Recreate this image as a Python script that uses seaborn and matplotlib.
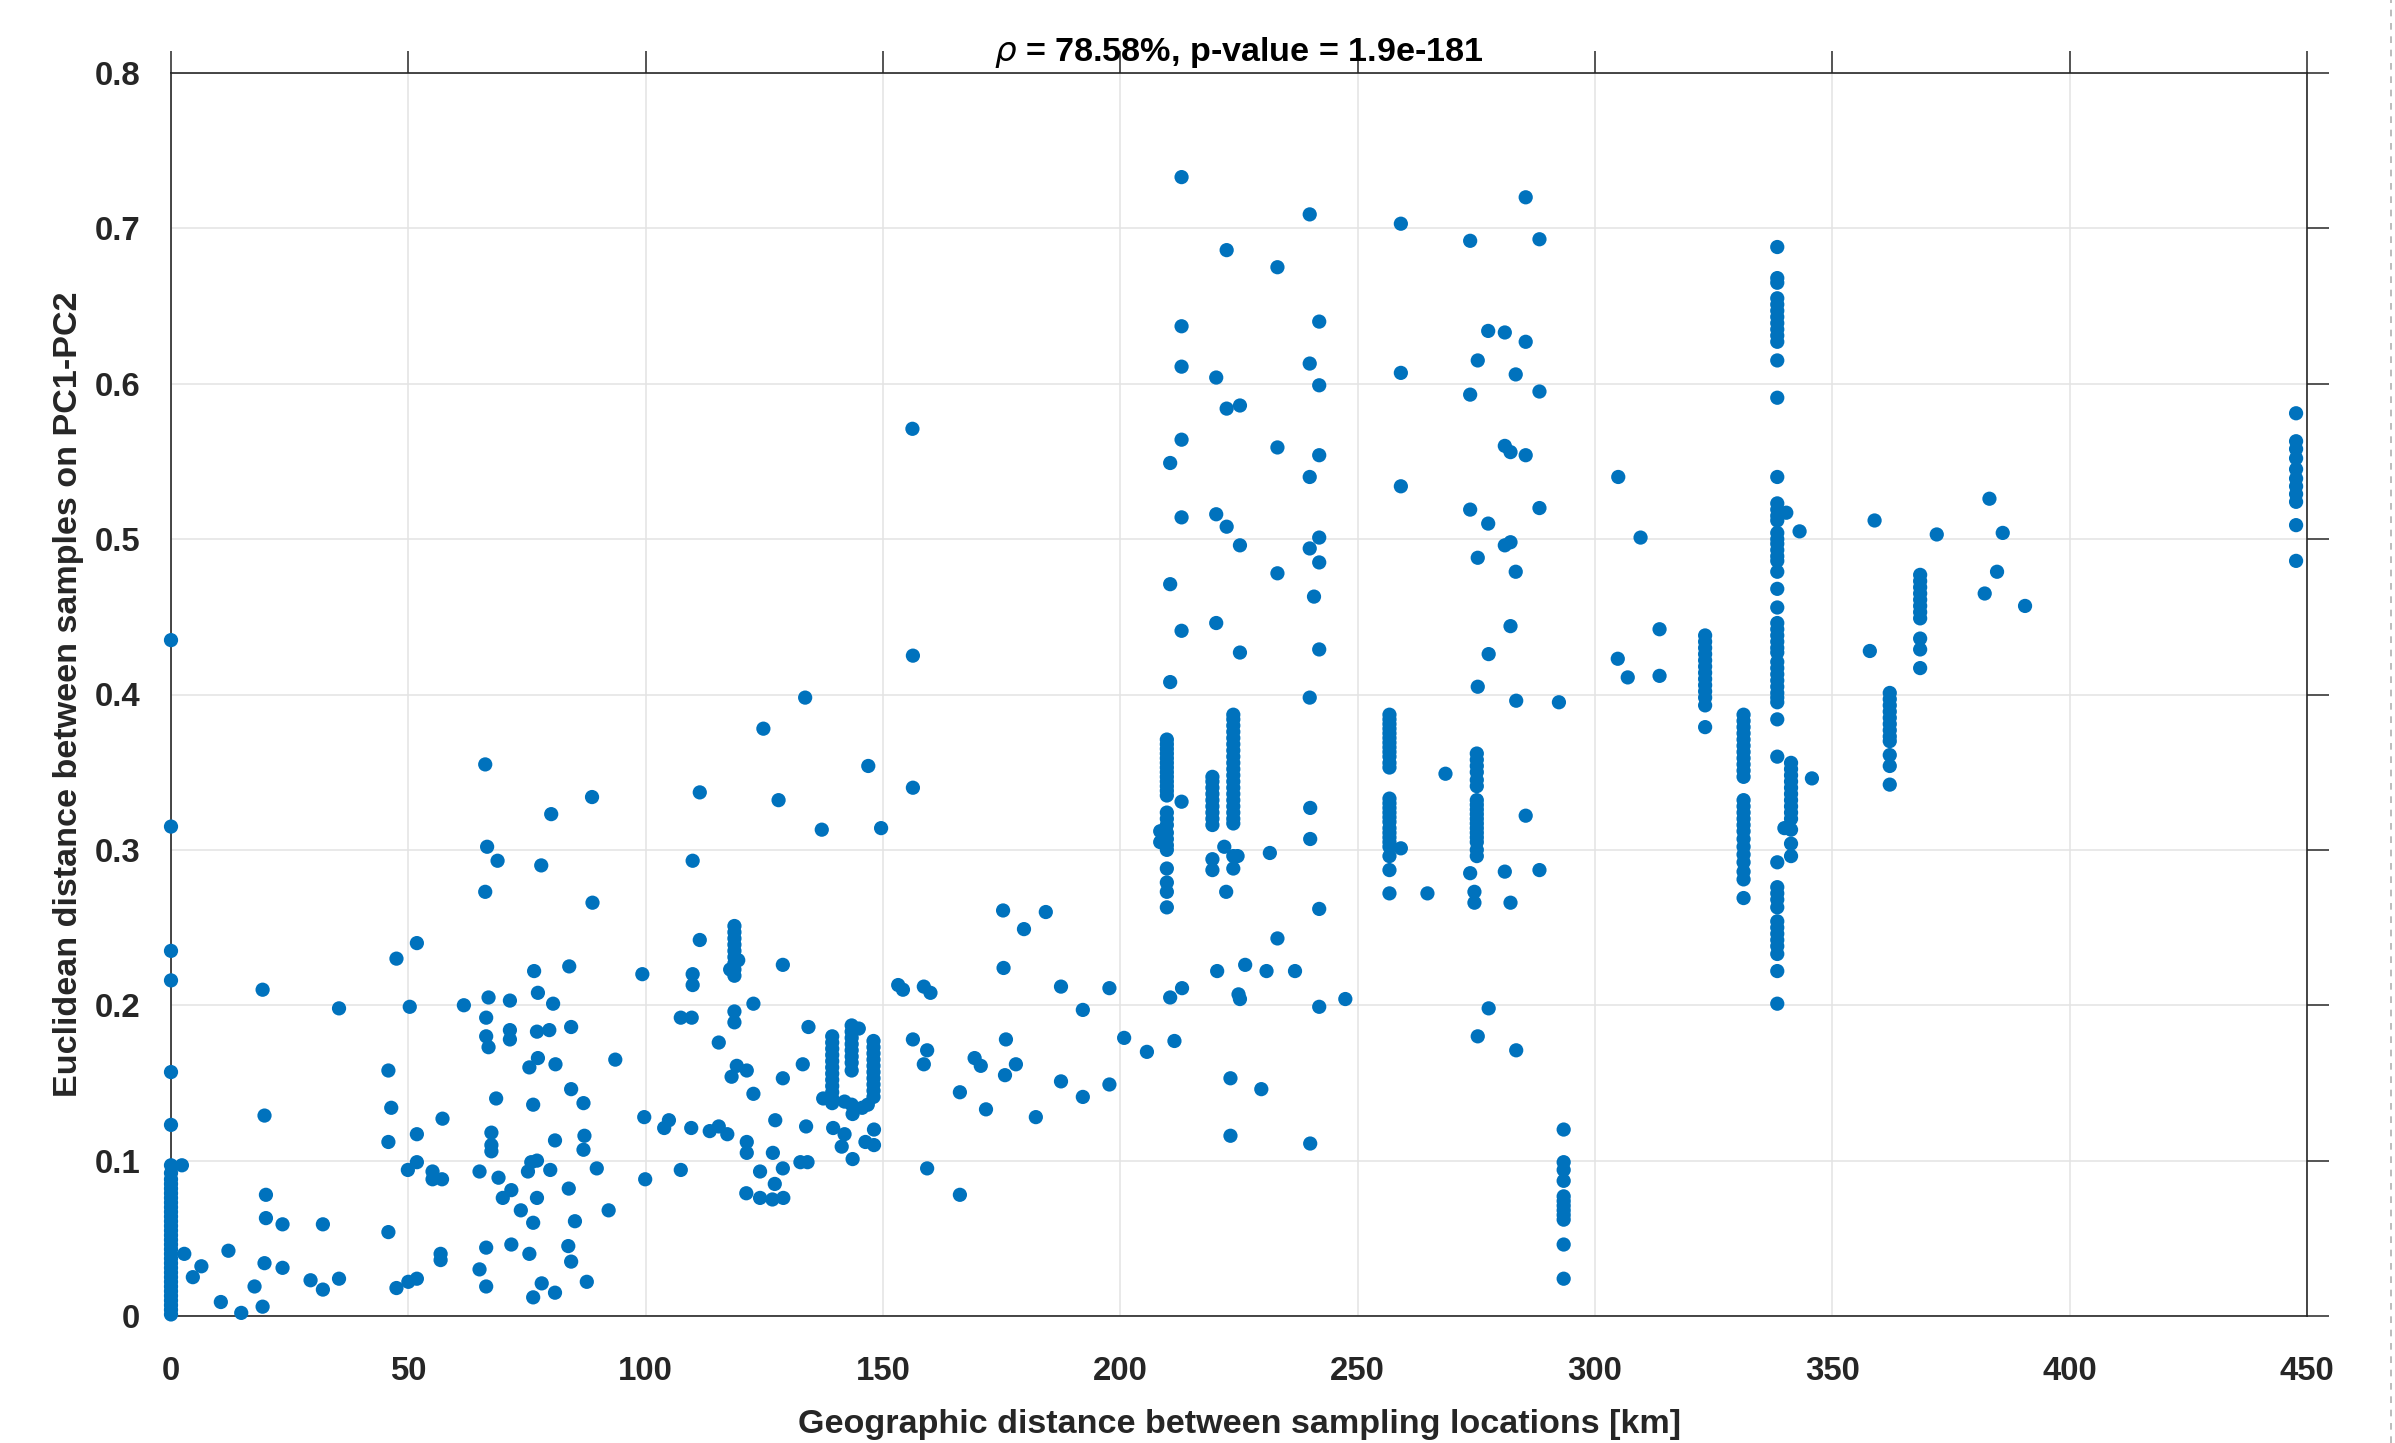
import numpy as np
import pandas as pd
import matplotlib
matplotlib.use("Agg")
import matplotlib.pyplot as plt
import seaborn as sns
from matplotlib import font_manager
from matplotlib.ticker import FuncFormatter
from matplotlib.lines import Line2D

# ---------------- data (km, Euclidean distance on PC1-PC2) ----------------
x_ticks = [0, 50, 100, 150, 200, 250, 300, 350, 400, 450]
y_ticks = [0, 0.1, 0.2, 0.3, 0.4, 0.5, 0.6, 0.7, 0.8]

# vertical clusters: (geographic distance, list of PC distances)
cols_near = [
    (0.0, [0.435, 0.315, 0.235, 0.216, 0.157, 0.123, 0.097, 0.092, 0.088, 0.085,
           0.082, 0.079, 0.076, 0.073, 0.070, 0.067, 0.064, 0.061, 0.058, 0.055,
           0.052, 0.049, 0.046, 0.043, 0.040, 0.037, 0.034, 0.031, 0.028, 0.025,
           0.022, 0.019, 0.016, 0.013, 0.010, 0.007, 0.004, 0.001]),
]
cols_mid = [
    (118.7, [0.251, 0.247, 0.243, 0.239, 0.235, 0.231, 0.227, 0.223, 0.219, 0.196, 0.189]),
    (139.3, [0.180, 0.176, 0.172, 0.168, 0.164, 0.160, 0.156, 0.152, 0.148, 0.144, 0.140, 0.137]),
    (143.4, [0.187, 0.183, 0.179, 0.175, 0.171, 0.167, 0.163, 0.158, 0.136]),
    (148.0, [0.177, 0.173, 0.169, 0.165, 0.161, 0.157, 0.153, 0.149, 0.145, 0.141]),
]
cols_far1 = [
    (209.8, [0.371, 0.368, 0.365, 0.362, 0.359, 0.356, 0.353, 0.350, 0.347, 0.344,
             0.341, 0.338, 0.335, 0.324, 0.320, 0.316, 0.311, 0.307, 0.303, 0.300,
             0.288, 0.279, 0.273, 0.263]),
    (219.4, [0.347, 0.344, 0.340, 0.336, 0.332, 0.328, 0.324, 0.320, 0.316, 0.294, 0.287]),
    (223.8, [0.387, 0.384, 0.380, 0.376, 0.372, 0.368, 0.364, 0.360, 0.356, 0.352,
             0.348, 0.344, 0.340, 0.336, 0.332, 0.328, 0.324, 0.320, 0.317, 0.296, 0.288]),
    (256.7, [0.387, 0.384, 0.381, 0.378, 0.375, 0.372, 0.369, 0.366, 0.363, 0.360,
             0.356, 0.353, 0.333, 0.330, 0.327, 0.324, 0.321, 0.318, 0.314, 0.311,
             0.308, 0.305, 0.302, 0.296, 0.287, 0.272]),
    (275.1, [0.362, 0.358, 0.354, 0.350, 0.345, 0.341, 0.332, 0.329, 0.326, 0.323,
             0.320, 0.317, 0.314, 0.311, 0.308, 0.305, 0.300, 0.296]),
    (293.4, [0.120, 0.099, 0.094, 0.087, 0.077, 0.074, 0.071, 0.068, 0.065, 0.062, 0.046, 0.024]),
]
cols_far2 = [
    (323.2, [0.438, 0.434, 0.430, 0.426, 0.422, 0.418, 0.414, 0.410, 0.406, 0.402, 0.398, 0.393, 0.379]),
    (331.3, [0.387, 0.383, 0.379, 0.375, 0.371, 0.367, 0.363, 0.359, 0.355, 0.351,
             0.347, 0.332, 0.328, 0.324, 0.320, 0.316, 0.312, 0.307, 0.302, 0.297,
             0.292, 0.286, 0.281, 0.269]),
    (338.4, [0.688, 0.668, 0.665, 0.655, 0.651, 0.647, 0.643, 0.639, 0.635, 0.631,
             0.627, 0.615, 0.591, 0.540, 0.523, 0.519, 0.515, 0.512, 0.504, 0.500,
             0.497, 0.493, 0.489, 0.486, 0.479, 0.468, 0.456, 0.446, 0.442, 0.438,
             0.434, 0.430, 0.427, 0.421, 0.417, 0.413, 0.409, 0.405, 0.401, 0.398,
             0.395, 0.384, 0.360, 0.292, 0.276, 0.272, 0.268, 0.263, 0.254, 0.250,
             0.246, 0.242, 0.238, 0.233, 0.222, 0.201]),
    (341.3, [0.356, 0.352, 0.348, 0.344, 0.340, 0.336, 0.332, 0.328, 0.324, 0.320, 0.313, 0.304, 0.296]),
    (362.1, [0.401, 0.397, 0.393, 0.389, 0.385, 0.381, 0.377, 0.373, 0.370, 0.361, 0.354, 0.342]),
    (368.5, [0.477, 0.473, 0.469, 0.465, 0.461, 0.457, 0.453, 0.449, 0.436, 0.429, 0.417]),
    (447.7, [0.581, 0.563, 0.558, 0.552, 0.545, 0.539, 0.534, 0.529, 0.524, 0.509, 0.486]),
]

# isolated points (geographic distance, PC distance)
pts_0_50 = [(2.3, 0.097), (19.3, 0.210), (35.4, 0.198), (19.7, 0.129), (20.0, 0.078),
            (20.0, 0.063), (23.5, 0.059), (32.0, 0.059), (2.8, 0.040), (12.1, 0.042),
            (6.4, 0.032), (4.6, 0.025), (19.7, 0.034), (23.5, 0.031), (17.6, 0.019),
            (29.4, 0.023), (32.0, 0.017), (35.4, 0.024), (10.5, 0.009), (14.8, 0.002),
            (19.3, 0.006), (45.8, 0.158), (46.4, 0.134), (45.8, 0.112), (45.8, 0.054),
            (47.5, 0.018), (49.9, 0.094), (51.8, 0.117), (51.8, 0.099), (50.3, 0.199),
            (47.5, 0.230), (51.8, 0.240), (50.0, 0.022), (51.8, 0.024)]
pts_50_100 = [(66.2, 0.355), (88.7, 0.334), (80.1, 0.323), (66.6, 0.302), (68.8, 0.293),
              (78.0, 0.290), (66.2, 0.273), (88.8, 0.266), (76.5, 0.222), (83.9, 0.225),
              (99.3, 0.220), (61.7, 0.200), (66.9, 0.205), (71.4, 0.203), (77.3, 0.208),
              (80.5, 0.201), (66.4, 0.192), (66.4, 0.180), (66.9, 0.173), (71.4, 0.184),
              (71.4, 0.178), (77.1, 0.183), (79.7, 0.184), (84.3, 0.186), (77.3, 0.166),
              (75.5, 0.160), (81.0, 0.162), (93.6, 0.165), (68.5, 0.140), (84.3, 0.146),
              (86.9, 0.137), (76.3, 0.136), (57.2, 0.127), (67.5, 0.118), (67.5, 0.110),
              (67.5, 0.106), (80.9, 0.113), (87.1, 0.116), (86.9, 0.107), (99.7, 0.128),
              (55.1, 0.093), (55.1, 0.088), (57.1, 0.088), (65.0, 0.093), (69.0, 0.089),
              (69.9, 0.076), (71.7, 0.081), (75.2, 0.093), (75.9, 0.099), (77.1, 0.100),
              (79.9, 0.094), (77.1, 0.076), (73.7, 0.068), (76.3, 0.060), (83.8, 0.082),
              (85.1, 0.061), (89.7, 0.095), (92.2, 0.068), (99.9, 0.088), (56.8, 0.040),
              (56.8, 0.036), (66.4, 0.044), (71.7, 0.046), (75.5, 0.040), (83.7, 0.045),
              (84.3, 0.035), (65.0, 0.030), (66.4, 0.019), (78.1, 0.021), (76.3, 0.012),
              (80.9, 0.015), (87.6, 0.022)]
pts_100_150 = [(133.6, 0.398), (124.8, 0.378), (146.9, 0.354), (111.4, 0.337), (128.0, 0.332),
               (137.1, 0.313), (149.6, 0.314), (109.9, 0.293), (111.4, 0.242), (119.5, 0.229),
               (117.8, 0.223), (109.9, 0.220), (109.9, 0.213), (128.9, 0.226), (122.7, 0.201),
               (107.4, 0.192), (109.7, 0.192), (134.3, 0.186), (115.4, 0.176), (119.2, 0.161),
               (118.1, 0.154), (121.3, 0.158), (133.1, 0.162), (128.9, 0.153), (122.7, 0.143),
               (137.4, 0.140), (144.9, 0.185), (141.9, 0.138), (143.6, 0.130), (145.6, 0.134),
               (146.8, 0.136), (103.9, 0.121), (104.9, 0.126), (109.6, 0.121), (113.5, 0.119),
               (115.4, 0.122), (117.2, 0.117), (127.3, 0.126), (133.8, 0.122), (139.5, 0.121),
               (141.9, 0.117), (141.3, 0.109), (143.6, 0.101), (148.1, 0.120), (148.1, 0.110),
               (146.3, 0.112), (121.3, 0.112), (121.3, 0.105), (126.8, 0.105), (107.4, 0.094),
               (124.1, 0.093), (128.9, 0.095), (132.6, 0.099), (134.1, 0.099), (127.2, 0.085),
               (121.2, 0.079), (124.1, 0.076), (126.7, 0.075), (129.0, 0.076)]
pts_150_200 = [(156.3, 0.425), (156.3, 0.340), (156.2, 0.571), (175.3, 0.261), (184.3, 0.260),
               (179.7, 0.249), (175.4, 0.224), (153.2, 0.213), (154.2, 0.210), (158.6, 0.212),
               (160.0, 0.208), (187.5, 0.212), (197.7, 0.211), (192.1, 0.197), (156.3, 0.178),
               (175.9, 0.178), (200.8, 0.179), (159.3, 0.171), (158.6, 0.162), (169.3, 0.166),
               (170.6, 0.161), (178.0, 0.162), (175.7, 0.155), (166.2, 0.144), (171.7, 0.133),
               (182.2, 0.128), (187.5, 0.151), (192.1, 0.141), (197.7, 0.149), (159.3, 0.095),
               (166.2, 0.078)]
pts_200_250 = [(212.9, 0.733), (239.9, 0.709), (222.4, 0.686), (233.1, 0.675), (212.9, 0.637),
               (241.9, 0.640), (212.9, 0.611), (239.9, 0.613), (220.2, 0.604), (241.9, 0.599),
               (222.4, 0.584), (225.2, 0.586), (212.9, 0.564), (210.5, 0.549), (233.1, 0.559),
               (241.9, 0.554), (239.9, 0.540), (212.9, 0.514), (220.2, 0.516), (222.4, 0.508),
               (225.2, 0.496), (241.9, 0.501), (239.9, 0.494), (241.9, 0.485), (233.1, 0.478),
               (240.8, 0.463), (210.5, 0.471), (212.9, 0.441), (220.2, 0.446), (225.2, 0.427),
               (241.9, 0.429), (210.5, 0.408), (239.9, 0.398), (208.4, 0.312), (208.4, 0.305),
               (212.9, 0.331), (221.9, 0.302), (224.7, 0.296), (231.5, 0.298), (222.3, 0.273),
               (240.0, 0.327), (240.0, 0.307), (241.9, 0.262), (233.1, 0.243), (220.4, 0.222),
               (226.3, 0.226), (230.8, 0.222), (236.8, 0.222), (210.5, 0.205), (213.0, 0.211),
               (224.9, 0.207), (225.2, 0.204), (241.9, 0.199), (247.4, 0.204), (205.6, 0.170),
               (211.4, 0.177), (223.2, 0.153), (229.7, 0.146), (223.2, 0.116), (240.0, 0.111)]
pts_250_300 = [(285.4, 0.720), (259.1, 0.703), (273.7, 0.692), (288.3, 0.693), (277.5, 0.634),
               (281.0, 0.633), (285.4, 0.627), (275.3, 0.615), (259.1, 0.607), (283.3, 0.606),
               (273.7, 0.593), (288.3, 0.595), (281.0, 0.560), (282.2, 0.556), (285.4, 0.554),
               (259.1, 0.534), (273.7, 0.519), (277.5, 0.510), (288.3, 0.520), (281.0, 0.496),
               (282.2, 0.498), (275.3, 0.488), (283.3, 0.479), (282.2, 0.444), (277.6, 0.426),
               (275.3, 0.405), (283.4, 0.396), (292.4, 0.395), (259.1, 0.301), (264.7, 0.272),
               (268.5, 0.349), (273.7, 0.285), (274.6, 0.273), (274.6, 0.266), (285.4, 0.322),
               (281.0, 0.286), (288.3, 0.287), (282.2, 0.266), (277.6, 0.198), (275.3, 0.180),
               (283.4, 0.171)]
pts_300_450 = [(304.8, 0.423), (306.9, 0.411), (313.6, 0.442), (313.6, 0.412), (304.9, 0.540),
               (309.6, 0.501), (340.3, 0.517), (343.1, 0.505), (339.9, 0.314), (345.7, 0.346),
               (357.9, 0.428), (358.9, 0.512), (372.0, 0.503), (383.1, 0.526), (385.9, 0.504),
               (384.7, 0.479), (382.1, 0.465), (390.6, 0.457)]

# ---------------- assemble ----------------
km, dist = [], []
for cols in (cols_near, cols_mid, cols_far1, cols_far2):
    for xk, ys in cols:
        km += [xk] * len(ys)
        dist += list(ys)
for pts in (pts_0_50, pts_50_100, pts_100_150, pts_150_200, pts_200_250, pts_250_300, pts_300_450):
    km += [p[0] for p in pts]
    dist += [p[1] for p in pts]
df = pd.DataFrame({"km": km, "dist": dist})

# ---------------- style ----------------
sns.set_style("white")
names = {f.name for f in font_manager.fontManager.ttflist}
if "Liberation Sans Narrow" in names:
    fam, k = "Liberation Sans Narrow", 1.0
else:
    fam, k = "Liberation Sans", 0.82
plt.rcParams["font.family"] = [fam, "DejaVu Sans"]

DPI = 100
fig = plt.figure(figsize=(2395 / DPI, 1443 / DPI), dpi=DPI)
ax = fig.add_axes([171 / 2395, 1 - 1316 / 1443, (2307 - 171) / 2395, (1316 - 73) / 1443])

sns.scatterplot(data=df, x="km", y="dist", ax=ax, color="#0072BD", s=105,
                linewidth=0, edgecolor="none", zorder=3, clip_on=False)

ax.set_xlim(0, 450)
ax.set_ylim(0, 0.8)
ax.set_xticks(x_ticks)
ax.set_yticks(y_ticks)
ax.yaxis.set_major_formatter(FuncFormatter(lambda v, p: "%g" % round(v, 2)))
ax.grid(True, color="#e3e3e3", linewidth=1.1, zorder=0)
ax.set_axisbelow(True)

axis_col = "#262626"
for sp in ax.spines.values():
    sp.set_visible(True)
    sp.set_color(axis_col)
    sp.set_linewidth(1.2)
ax.tick_params(axis="both", which="major", direction="out", length=16, width=1.1,
               color=axis_col, labelcolor=axis_col, top=True, right=True,
               labelsize=29 * k)
ax.tick_params(axis="x", pad=13)
ax.tick_params(axis="y", pad=6)
for lab in ax.get_xticklabels() + ax.get_yticklabels():
    lab.set_fontweight("bold")

ax.set_xlabel("Geographic distance between sampling locations [km]",
              fontsize=30 * k, fontweight="bold", color=axis_col, labelpad=16)
ax.set_ylabel("Euclidean distance between samples on PC1-PC2",
              fontsize=30 * k, fontweight="bold", color=axis_col, labelpad=8)
ax.set_title(r"$\rho$ = 78.58%, p-value = 1.9e-181", fontsize=30 * k,
             fontweight="bold", color="black", pad=9)

fig.add_artist(Line2D([0.9985, 0.9985], [0, 1], transform=fig.transFigure,
                      color="#b0b0b0", linestyle=(0, (4, 4)), linewidth=1.2))

fig.savefig("out.png", dpi=DPI, facecolor="white")
